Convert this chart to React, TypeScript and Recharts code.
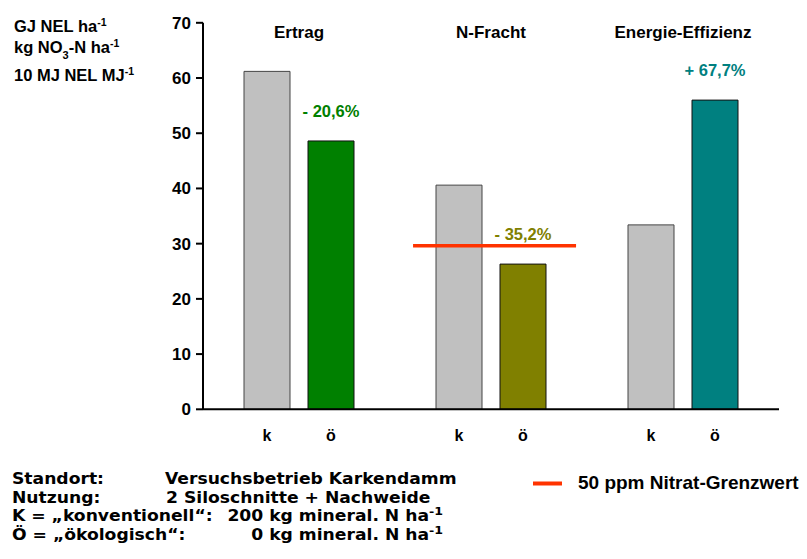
import React from "react";
import {
  BarChart,
  Bar,
  XAxis,
  YAxis,
  Cell,
  LabelList,
  ReferenceLine,
} from "recharts";

// values
const groups = ["Ertrag", "N-Fracht", "Energie-Effizienz"];
const konventionell = [61.2, 40.6, 33.4];
const oekologisch = [48.6, 26.3, 56.0];
const changeLabels = ["- 20,6%", "- 35,2%", "+ 67,7%"];
const yTicks = [0, 10, 20, 30, 40, 50, 60, 70];
const nitratLimit = 29.6;
// extent of the limit line, in group units (0..3 across the plot)
const limitFrom = 1.094;
const limitTo = 1.943;

const oeColors = ["#008000", "#808000", "#008080"];
const LIMIT_RED = "#FF3300";
const ARIAL = '"Liberation Sans", Arial, sans-serif';
const FOOT = '"DejaVu Sans", Verdana, sans-serif';
const FOOT_SX = 1.145;

const data = groups.map((g, i) => ({
  group: g,
  k: konventionell[i],
  oe: oekologisch[i],
  change: changeLabels[i],
}));

const TitleLabel = (props: any) => {
  const vb = props.viewBox ?? props;
  return (
    <text
      x={vb.x}
      y={vb.y + 15}
      textAnchor="middle"
      fill="#000"
      fontSize={17}
      fontWeight="bold"
      fontFamily={ARIAL}
    >
      {props.value}
    </text>
  );
};

const ChangeLabel = (props: any) => {
  const vb = props.viewBox ?? props;
  const { x, y, width } = vb;
  const idx = changeLabels.indexOf(props.value);
  return (
    <text
      x={x + width / 2}
      y={y - 24}
      textAnchor="middle"
      fill={oeColors[idx] ?? "#000"}
      fontSize={16.5}
      fontWeight="bold"
      fontFamily={ARIAL}
    >
      {props.value}
    </text>
  );
};

const letterLabel = (letter: string) => (props: any) => {
  const vb = props.viewBox ?? props;
  const { x, y, width, height } = vb;
  return (
    <text
      x={x + width / 2}
      y={y + height + 32}
      textAnchor="middle"
      fill="#000"
      fontSize={16}
      fontWeight="bold"
      fontFamily={ARIAL}
    >
      {letter}
    </text>
  );
};

// limit line only over the N-Fracht group: a part of the full-width reference line
const LimitShape = (props: any) => {
  const { x1, x2, y1 } = props;
  const w = x2 - x1;
  return (
    <line
      x1={x1 + (w * limitFrom) / groups.length}
      x2={x1 + (w * limitTo) / groups.length}
      y1={y1}
      y2={y1}
      stroke={LIMIT_RED}
      strokeWidth={3.5}
    />
  );
};

const sup = (t: string, size = 10.5) => (
  <tspan fontSize={size} dy={-6}>
    {t}
  </tspan>
);

function FootLine({ y, left, right, rightX, anchor }: any) {
  return (
    <g transform={`scale(${FOOT_SX} 1)`}>
      <text x={12 / FOOT_SX} y={y}>
        {left}
      </text>
      <text x={rightX / FOOT_SX} y={y} textAnchor={anchor}>
        {right}
      </text>
    </g>
  );
}

export default function App() {
  return (
    <div
      style={{
        position: "absolute",
        left: 0,
        top: 0,
        width: 807,
        height: 559,
        background: "#fff",
        fontFamily: ARIAL,
      }}
    >
      <div style={{ position: "absolute", left: 0, top: 0 }}>
        <BarChart
          width={807}
          height={450}
          data={data}
          margin={{ top: 22.8, right: 28, left: 0, bottom: 10.7 }}
          barGap={18}
          barSize={46}
        >
          <XAxis
            dataKey="group"
            height={30}
            tick={false}
            tickLine={false}
            axisLine={{ stroke: "#000", strokeWidth: 2 }}
          />
          <YAxis
            width={203}
            domain={[0, 70]}
            ticks={yTicks}
            interval={0}
            tickSize={7}
            tickMargin={5}
            axisLine={{ stroke: "#000", strokeWidth: 2 }}
            tickLine={{ stroke: "#000", strokeWidth: 2 }}
            tick={{
              fill: "#000",
              fontSize: 17,
              fontWeight: "bold",
              fontFamily: ARIAL,
            }}
          />
          {groups.map((g) => (
            <ReferenceLine
              key={g}
              x={g}
              strokeOpacity={0}
              label={{ value: g, content: TitleLabel }}
            />
          ))}
          <Bar
            dataKey="k"
            fill="#C0C0C0"
            stroke="#444"
            strokeWidth={1}
            isAnimationActive={false}
          >
            <LabelList dataKey="k" content={letterLabel("k")} />
          </Bar>
          <Bar
            dataKey="oe"
            stroke="#111"
            strokeWidth={1}
            isAnimationActive={false}
          >
            {data.map((d, i) => (
              <Cell key={d.group} fill={oeColors[i]} />
            ))}
            <LabelList dataKey="change" content={ChangeLabel} />
            <LabelList dataKey="oe" content={letterLabel("ö")} />
          </Bar>
          <ReferenceLine y={nitratLimit} shape={LimitShape} />
        </BarChart>
      </div>

      <svg
        width={807}
        height={559}
        style={{ position: "absolute", left: 0, top: 0, pointerEvents: "none" }}
      >
        {/* unit labels */}
        <g fontFamily={ARIAL} fontWeight="bold" fontSize={16.5} fill="#000">
          <text x={14} y={31.7}>
            GJ NEL ha{sup("-1")}
          </text>
          <text x={14} y={53.3}>
            kg NO
            <tspan fontSize={11} dy={6}>
              3
            </tspan>
            <tspan dy={-6}>-N ha</tspan>
            {sup("-1")}
          </text>
          <text x={14} y={81}>
            10 MJ NEL MJ{sup("-1")}
          </text>
        </g>

        {/* legend */}
        <line x1={533} x2={562} y1={483.5} y2={483.5} stroke={LIMIT_RED} strokeWidth={4} />
        <text
          x={578}
          y={489.3}
          fontFamily={ARIAL}
          fontWeight="bold"
          fontSize={19}
          fill="#000"
        >
          50 ppm Nitrat-Grenzwert
        </text>

        {/* site notes */}
        <g fontFamily={FOOT} fontWeight="bold" fontSize={15} fill="#000">
          <FootLine y={484} left="Standort:" right="Versuchsbetrieb Karkendamm" rightX={165} anchor="start" />
          <FootLine y={502.7} left="Nutzung:" right="2 Siloschnitte + Nachweide" rightX={166} anchor="start" />
          <FootLine
            y={521.5}
            left="K = „konventionell“:"
            right={
              <>
                200 kg mineral. N ha{sup("-1", 11)}
              </>
            }
            rightX={443}
            anchor="end"
          />
          <FootLine
            y={540}
            left="Ö = „ökologisch“:"
            right={
              <>
                0 kg mineral. N ha{sup("-1", 11)}
              </>
            }
            rightX={443}
            anchor="end"
          />
        </g>
      </svg>
    </div>
  );
}
